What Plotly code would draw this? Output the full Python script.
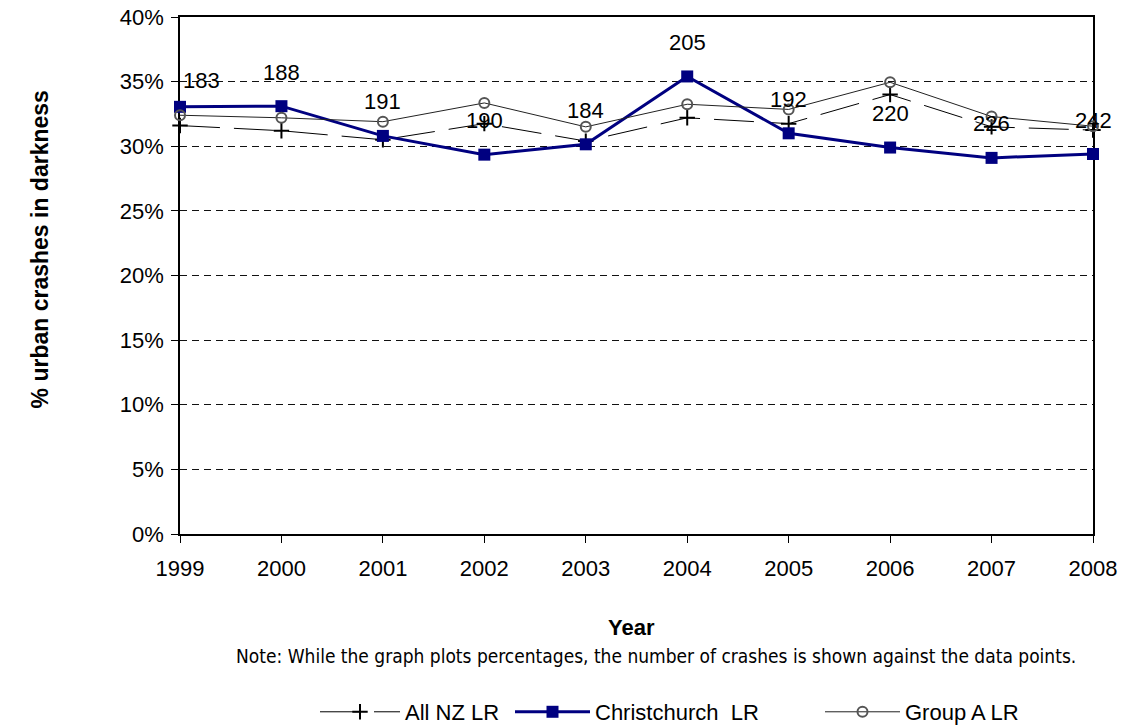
import plotly.graph_objects as go

years = [1999, 2000, 2001, 2002, 2003, 2004, 2005, 2006, 2007, 2008]
all_nz = [31.6, 31.2, 30.5, 31.75, 30.4, 32.2, 31.75, 34.0, 31.5, 31.25]
christchurch = [33.05, 33.1, 30.8, 29.35, 30.15, 35.4, 31.0, 29.9, 29.1, 29.4]
group_a = [32.4, 32.2, 31.9, 33.35, 31.5, 33.25, 32.85, 34.95, 32.3, 31.55]
crash_counts = ["183", "188", "191", "190", "184", "205", "192", "220", "226", "242"]
y_ticks = [0, 5, 10, 15, 20, 25, 30, 35, 40]
y_tick_labels = [f"{v}%" for v in y_ticks]

FONT = "Liberation Sans, Arial, sans-serif"

fig = go.Figure()

fig.add_trace(go.Scatter(
    x=years, y=all_nz, name="All NZ LR", mode="lines+markers",
    line=dict(color="#000000", width=1, dash="40px,14px"),
    marker=dict(symbol="cross-thin", size=11, line=dict(color="#000000", width=2)),
    cliponaxis=False, legend="legend",
))
fig.add_trace(go.Scatter(
    x=years, y=christchurch, name="Christchurch  LR", mode="lines+markers",
    line=dict(color="#000080", width=3),
    marker=dict(symbol="square", size=12, color="#000080"),
    cliponaxis=False, legend="legend2",
))
fig.add_trace(go.Scatter(
    x=years, y=group_a, name="Group A LR", mode="lines+markers",
    line=dict(color="#222222", width=1),
    marker=dict(symbol="circle-open", size=10, color="#555555", line=dict(width=2)),
    cliponaxis=False, legend="legend3",
))

for i, (xv, yv, t) in enumerate(zip(years, christchurch, crash_counts)):
    first = i == 0
    fig.add_annotation(
        x=xv, y=yv, text=t, showarrow=False,
        xanchor="center", yanchor="middle",
        xshift=21 if first else 0, yshift=26 if first else 34,
        font=dict(family=FONT, size=22, color="#000000"),
    )

fig.add_annotation(
    text="<b>% urban crashes in darkness</b>", textangle=-90,
    xref="paper", yref="paper", x=-0.153, y=0.551,
    xanchor="center", yanchor="middle", showarrow=False,
    font=dict(family=FONT, size=23, color="#000000"),
)
fig.add_annotation(
    text="<b>Year</b>", xref="paper", yref="paper", x=0.495, y=-0.18,
    xanchor="center", yanchor="middle", showarrow=False,
    font=dict(family=FONT, size=22, color="#000000"),
)
fig.add_annotation(
    text="Note: While the graph plots percentages, the number of crashes is shown against the data points.",
    xref="paper", yref="paper", x=0.521, y=-0.236,
    xanchor="center", yanchor="middle", showarrow=False,
    font=dict(family="DejaVu Sans Condensed, " + FONT, size=19, color="#000000"),
)

legend_common = dict(
    orientation="h", xref="container", yref="container",
    y=0.0193, xanchor="left", yanchor="middle",
    font=dict(family=FONT, size=22, color="#000000"),
    bgcolor="rgba(0,0,0,0)",
)

fig.update_layout(
    width=1123, height=726,
    margin=dict(l=180, r=30, t=17, b=192),
    paper_bgcolor="white", plot_bgcolor="white",
    font=dict(family=FONT, size=22, color="#000000"),
    showlegend=True,
    legend=dict(x=315 / 1123, itemwidth=80, **legend_common),
    legend2=dict(x=510 / 1123, itemwidth=75, **legend_common),
    legend3=dict(x=820 / 1123, itemwidth=75, **legend_common),
    xaxis=dict(
        range=[1999, 2008], tickmode="array", tickvals=years,
        ticktext=[str(y) for y in years],
        showline=True, linecolor="#000000", linewidth=1.5, mirror=True,
        ticks="outside", ticklen=7, tickcolor="#000000",
        showgrid=False, zeroline=False, layer="below traces",
        tickfont=dict(family=FONT, size=22), automargin=False,
        ticklabelstandoff=7,
    ),
    yaxis=dict(
        range=[0, 40], tickmode="array", tickvals=y_ticks, ticktext=y_tick_labels,
        showline=True, linecolor="#000000", linewidth=1.5, mirror=True,
        ticks="outside", ticklen=7, tickcolor="#000000",
        showgrid=True, gridcolor="#111111", gridwidth=1, griddash="7px,5px",
        zeroline=False, layer="below traces",
        tickfont=dict(family=FONT, size=22), automargin=False,
        ticklabelstandoff=3,
    ),
)

fig.write_html("out.html", post_script="document.body.style.margin='0';",
               config={"displayModeBar": False})
